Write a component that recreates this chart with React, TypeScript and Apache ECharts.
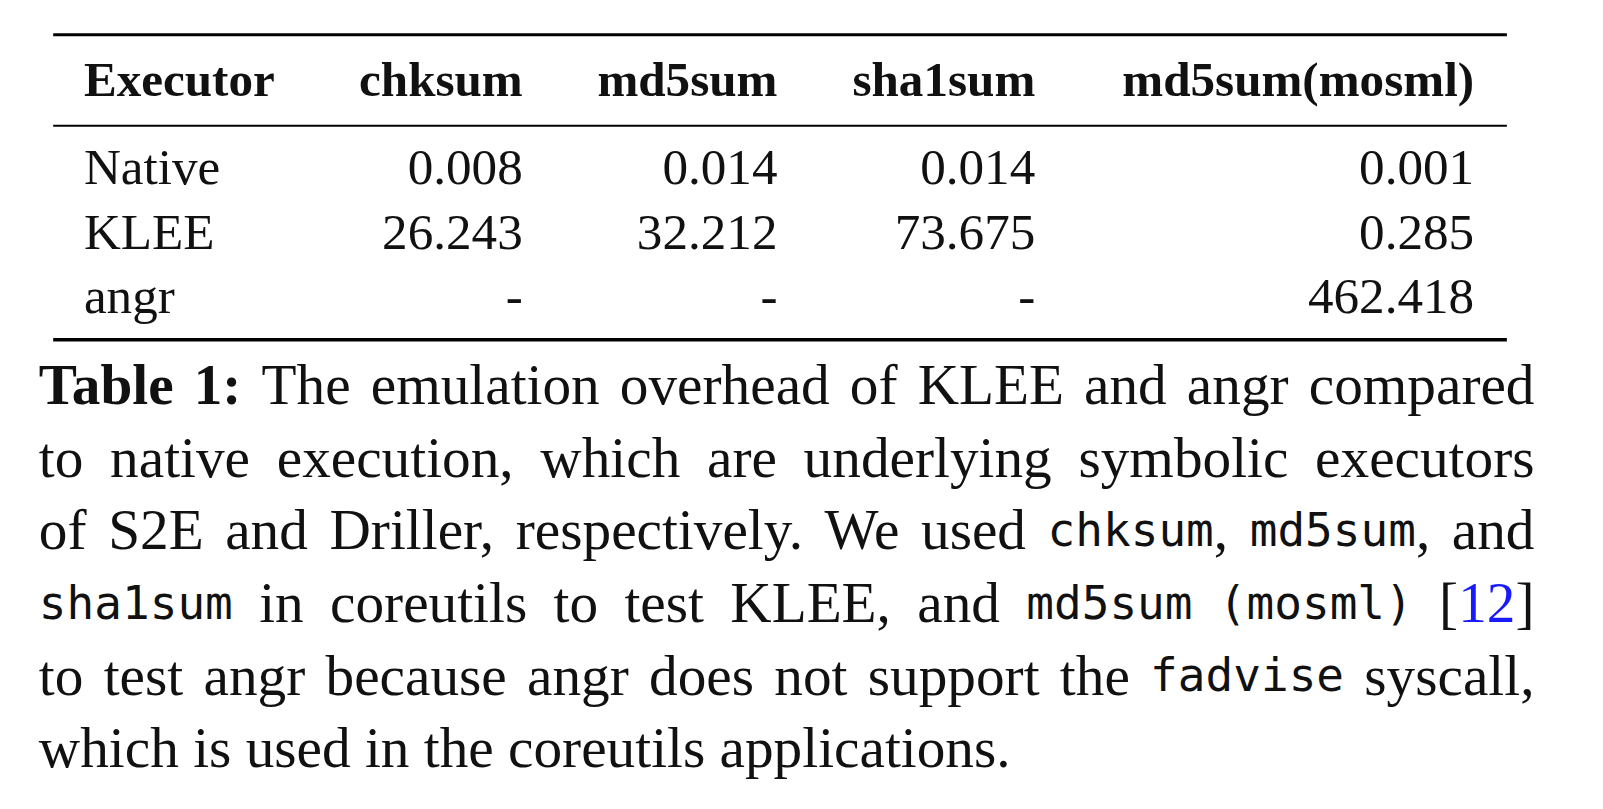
import { useEffect, useRef } from 'react'
import * as echarts from 'echarts'

const headers = ['Executor', 'chksum', 'md5sum', 'sha1sum', 'md5sum(mosml)']
const executors = ['Native', 'KLEE', 'angr']
const chksum = ['0.008', '26.243', '-']
const md5sum = ['0.014', '32.212', '-']
const sha1sum = ['0.014', '73.675', '-']
const mosml = ['0.001', '0.285', '462.418']

// *bold*  `mono`  {blue}
const captionLines = [
  '*Table* *1:* The emulation overhead of KLEE and angr compared',
  'to native execution, which are underlying symbolic executors',
  'of S2E and Driller, respectively. We used `chksum`, `md5sum`, and',
  '`sha1sum` in coreutils to test KLEE, and `md5sum` `(mosml)` [{12}]',
  'to test angr because angr does not support the `fadvise` syscall,',
  'which is used in the coreutils applications.',
]

const S = 1.023
const SERIF = '"Liberation Serif", "Times New Roman", serif'
const MONO = '"DejaVu Sans Mono", monospace'
const colRight = [0, 511, 760, 1012, 1441]
const rowY = [163, 226, 289]

type Seg = { t: string; kind: 'n' | 'b' | 'm' | 'l' }

function parseWord(w: string): Seg[] {
  const segs: Seg[] = []
  const re = /\*([^*]+)\*|`([^`]+)`|\{([^}]+)\}|([^*`{]+)/g
  let m
  while ((m = re.exec(w))) {
    if (m[1]) segs.push({ t: m[1], kind: 'b' })
    else if (m[2]) segs.push({ t: m[2], kind: 'm' })
    else if (m[3]) segs.push({ t: m[3], kind: 'l' })
    else segs.push({ t: m[4], kind: 'n' })
  }
  return segs
}

function fontOf(kind: Seg['kind']) {
  if (kind === 'b') return `bold ${56 * S}px ${SERIF}`
  if (kind === 'm') return `${45 * S}px ${MONO}`
  return `${56 * S}px ${SERIF}`
}

export default function App() {
  const ref = useRef<HTMLDivElement>(null)

  useEffect(() => {
    if (!ref.current) return
    const chart = echarts.init(ref.current, null, { renderer: 'svg' })
    const ctx = document.createElement('canvas').getContext('2d')!
    const measure = (s: Seg) => {
      ctx.font = fontOf(s.kind)
      return ctx.measureText(s.t).width
    }

    const els: any[] = []
    const rule = (y: number, w: number) =>
      els.push({ type: 'line', shape: { x1: 52 * S, y1: y * S, x2: 1473 * S, y2: y * S }, style: { stroke: '#000', lineWidth: w } })
    rule(34, 3)
    rule(123, 2)
    rule(332, 3.5)

    const txt = (x: number, y: number, text: string, font: string, align: string, fill = '#111') =>
      els.push({ type: 'text', x: x * S, y: y * S, style: { text, font, align, verticalAlign: 'middle', fill } })

    headers.forEach((h, i) =>
      txt(i === 0 ? 82 : colRight[i], 78, h, `bold ${48 * S}px ${SERIF}`, i === 0 ? 'left' : 'right'))
    const cols = [executors, chksum, md5sum, sha1sum, mosml]
    cols.forEach((col, i) =>
      col.forEach((v, r) =>
        txt(i === 0 ? 82 : colRight[i], rowY[r], v, `${50 * S}px ${SERIF}`, i === 0 ? 'left' : 'right')))

    const left = 38
    const right = 1500
    captionLines.forEach((line, li) => {
      const y = 376 + li * 71
      const words = line.split(' ').map(parseWord)
      const widths = words.map((w) => w.reduce((a, s) => a + measure(s) / S, 0))
      const total = widths.reduce((a, b) => a + b, 0)
      const last = li === captionLines.length - 1
      const gap = last ? measure({ t: ' ', kind: 'n' }) / S : (right - left - total) / (words.length - 1)
      let x = left
      words.forEach((w, wi) => {
        let sx = x
        w.forEach((s) => {
          txt(sx, y, s.t, fontOf(s.kind), 'left', s.kind === 'l' ? '#1a1aff' : '#111')
          sx += measure(s) / S
        })
        x += widths[wi] + gap
      })
    })

    chart.setOption({ animation: false, graphic: { elements: els } })
    return () => chart.dispose()
  }, [])

  return (
    <div
      ref={ref}
      style={{ position: 'absolute', left: 0, top: 0, width: 1603, height: 809, background: '#fff' }}
    />
  )
}
